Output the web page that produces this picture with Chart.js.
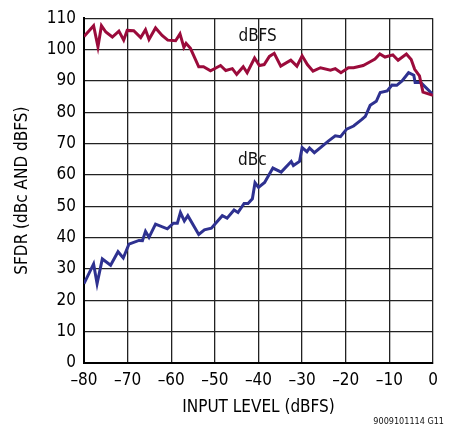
<!DOCTYPE html>
<html>
<head>
<meta charset="utf-8">
<script src="https://cdn.jsdelivr.net/npm/chart.js@4/dist/chart.umd.min.js"></script>
<style>
  html, body { margin: 0; padding: 0; background: #fff; }
  #wrap { width: 456px; height: 431px; }
</style>
</head>
<body>
<div id="wrap"><canvas id="sfdrChart" width="456" height="431"></canvas></div>
<script>
// values (x = input level dBFS, y = SFDR)
const dbfsX = [-80, -77.8, -76.8, -76, -75, -73.5, -72, -70.9, -70.1, -68.6, -67, -65.9, -65.1, -63.6, -62.1, -60.8, -59, -58, -57.1, -56.6, -55.6, -53.7, -52.6, -51, -48.7, -47.5, -46, -45, -43.5, -42.6, -40.9, -39.8, -38.7, -37.5, -36.4, -34.9, -32.6, -31.2, -30, -28.8, -27.5, -25.8, -23.5, -22.4, -21.1, -19.4, -18.2, -16, -14.3, -13.3, -12.2, -11, -9.2, -8, -6.1, -5, -4.2, -3.1, -2.3, 0];
const dbfsY = [104.2, 107.6, 100.9, 107.6, 105.6, 104, 105.9, 103, 106.1, 106, 103.8, 106.3, 103.2, 106.9, 104.5, 103, 102.8, 105, 100.7, 102, 100.4, 94.5, 94.5, 93.2, 94.9, 93.3, 93.9, 92.1, 94.5, 92.6, 97.3, 94.9, 95.2, 97.8, 98.8, 94.7, 96.6, 94.7, 98, 95.2, 93.1, 94.2, 93.4, 93.9, 92.6, 94.2, 94.2, 94.9, 96.2, 97, 98.6, 97.6, 98.3, 96.6, 98.6, 96.8, 93.7, 91.6, 86.4, 85.4];

const dbcX = [-80, -77.8, -77, -75.8, -73.9, -72.2, -71, -69.7, -67.4, -66.6, -65.9, -65.1, -63.6, -60.9, -59.5, -58.6, -57.9, -57, -56.2, -53.7, -52.4, -50.8, -48.3, -47.2, -45.6, -44.7, -43.3, -42.4, -41.4, -40.8, -40, -38.6, -36.7, -34.8, -32.5, -32, -30.6, -30, -28.9, -28.3, -27.2, -24, -22.4, -21.2, -19.8, -18.2, -16.3, -15.5, -14.4, -13, -12.1, -10.5, -9.4, -8.3, -7.1, -5.6, -4.4, -4.1, -2.8, 0];
const dbcY = [25.3, 31.6, 25.3, 33.2, 31.2, 35.5, 33.5, 37.9, 39.1, 39, 42, 40.1, 44.3, 42.8, 44.6, 44.6, 48, 45.3, 47, 41, 42.5, 43, 47, 46.2, 48.8, 48, 50.9, 50.9, 52.4, 57.5, 56, 57.6, 62.2, 60.9, 64.3, 63, 64.3, 68.7, 67.4, 68.6, 67.1, 70.8, 72.5, 72.2, 74.6, 75.6, 77.7, 78.7, 82.2, 83.5, 86.3, 86.8, 88.7, 88.6, 90, 92.6, 91.8, 89.5, 89.5, 85.6];

const xTicks = [-80, -70, -60, -50, -40, -30, -20, -10, 0];
const yTicks = [0, 10, 20, 30, 40, 50, 60, 70, 80, 90, 100, 110];

const FONT = "'Liberation Sans Narrow', 'DejaVu Sans Condensed', 'Liberation Sans', sans-serif";

function pts(xs, ys) {
    return xs.map((x, i) => ({ x: x, y: ys[i] }));
}

// curve labels + figure number
const textPlugin = {
    id: 'textPlugin',
    afterDraw(chart) {
        const ctx = chart.ctx;
        const xs = chart.scales.x, ys = chart.scales.y;
        ctx.save();
        ctx.fillStyle = '#111';
        ctx.textAlign = 'center';
        ctx.textBaseline = 'middle';
        ctx.font = '17px ' + FONT;
        ctx.fillText('dBFS', xs.getPixelForValue(-40.2), ys.getPixelForValue(104.2));
        ctx.fillText('dBc', xs.getPixelForValue(-41.4), ys.getPixelForValue(64.5));
        ctx.textAlign = 'right';
        ctx.font = '9px ' + FONT;
        ctx.fillText('9009101114 G11', 444, 422);
        ctx.restore();
    }
};

const canvas = document.getElementById('sfdrChart');
if (canvas) {
    const ctx = canvas.getContext('2d');
    new Chart(ctx, {
        type: 'line',
        data: {
            datasets: [{
                label: 'dBFS',
                data: pts(dbfsX, dbfsY),
                borderColor: '#9b0b3b',
                borderWidth: 3,
                pointRadius: 0,
                tension: 0,
                fill: false
            }, {
                label: 'dBc',
                data: pts(dbcX, dbcY),
                borderColor: '#2e3190',
                borderWidth: 3,
                pointRadius: 0,
                tension: 0,
                fill: false
            }]
        },
        options: {
            responsive: false,
            animation: false,
            devicePixelRatio: 1,
            layout: { padding: { left: 0, right: 23, top: 11, bottom: 0 } },
            plugins: {
                legend: { display: false },
                tooltip: { enabled: false }
            },
            scales: {
                x: {
                    type: 'linear',
                    min: -80,
                    max: 0,
                    afterBuildTicks: function(scale) { scale.ticks = xTicks.map(v => ({ value: v })); },
                    afterFit: function(scale) { scale.height = 68; },
                    grid: { color: '#222', lineWidth: 1.3, drawTicks: false },
                    border: { color: '#000', width: 2 },
                    ticks: {
                        color: '#000',
                        padding: 7,
                        maxRotation: 0,
                        font: { family: FONT, size: 17 },
                        callback: function(value) { return String(value).replace('-', '\u2013'); }
                    },
                    title: {
                        display: true,
                        text: 'INPUT LEVEL (dBFS)',
                        color: '#000',
                        font: { family: FONT, size: 17 },
                        padding: { top: 4, bottom: 13 }
                    }
                },
                y: {
                    min: 0,
                    max: 110,
                    afterBuildTicks: function(scale) { scale.ticks = yTicks.map(v => ({ value: v })); },
                    afterFit: function(scale) { scale.width = 84; },
                    grid: { color: '#222', lineWidth: 1.3, drawTicks: false },
                    border: { color: '#000', width: 2 },
                    ticks: {
                        color: '#000',
                        padding: 8,
                        font: { family: FONT, size: 17 }
                    },
                    title: {
                        display: true,
                        text: 'SFDR (dBc AND dBFS)',
                        color: '#000',
                        font: { family: FONT, size: 17 },
                        padding: { top: 12, bottom: 0 }
                    }
                }
            }
        },
        plugins: [textPlugin]
    });
}
</script>
</body>
</html>
